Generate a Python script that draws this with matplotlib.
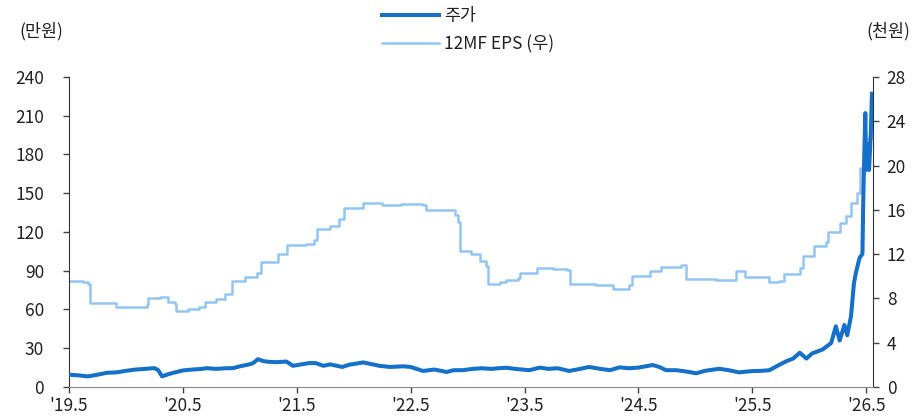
import matplotlib
matplotlib.use("Agg")
import matplotlib.pyplot as plt

plt.rcParams['font.family'] = ['Noto Sans CJK KR', 'DejaVu Sans']

# months since 2019-05 ('19.5)
price_m = [0, 1, 2, 3, 4, 5, 6, 7, 8, 9, 9.4, 9.8, 10.5, 11, 12, 13, 14, 14.5, 15.5, 16.5,
           17.3, 18, 19, 19.4, 19.9, 20.5, 21, 21.9, 22.9, 23.6, 24.5, 25.3, 26, 26.8, 27.5,
           28.8, 29.5, 31, 32, 32.7, 33.8, 35.2, 36, 37.3, 38.5, 39.8, 40.5, 41.5, 42.5, 43.5,
           44.5, 45.4, 46.1, 47, 48.5, 49.6, 50.5, 51.5, 52.7, 53.5, 54.8, 56, 57, 58, 59, 60,
           61.5, 62.2, 62.9, 64, 65, 66.1, 67, 68.5, 69.5, 70.6, 71.5, 72, 73, 73.8, 74.8, 75.6,
           76.3, 77, 77.7, 78.3, 79.4, 80.3, 80.8, 81.2, 81.7, 82.0, 82.4, 82.7, 82.9, 83.3,
           83.6, 83.7, 83.9, 84.0, 84.1, 84.3, 84.5, 84.6]
price_v = [9.5, 9.0, 8.2, 9.5, 11.0, 11.3, 12.5, 13.5, 14.0, 14.6, 13.0, 8.2, 10.0, 11.0, 12.8,
           13.5, 14.0, 14.6, 14.0, 14.5, 14.6, 16.0, 17.5, 18.5, 21.5, 20.0, 19.5, 19.2, 19.7,
           16.4, 17.5, 18.5, 18.5, 16.4, 17.5, 15.5, 17.2, 19.0, 17.5, 16.4, 15.5, 16.0, 15.5,
           12.4, 13.5, 11.6, 13.0, 13.0, 14.0, 14.5, 14.0, 14.6, 14.9, 14.0, 13.0, 15.0, 14.0,
           14.5, 12.4, 13.5, 15.5, 14.0, 13.0, 15.2, 14.5, 15.0, 17.0, 15.5, 13.0, 13.0, 12.0,
           10.6, 12.5, 14.1, 13.0, 11.3, 12.0, 12.3, 12.5, 13.0, 17.0, 20.0, 22.0, 26.5, 22.0,
           26.0, 29.0, 34.0, 47.0, 36.0, 48.0, 40.0, 55.0, 80.0, 88.0, 100.0, 103.0, 150.0,
           212.0, 168.0, 188.0, 168.0, 200.0, 227.0]

eps_m = [0, 1.5, 2.0, 2.2, 3.5, 5, 7, 8.2, 8.3, 9.6, 10.4, 11.2, 11.3, 12.5, 13.7, 14.3, 15.5,
         16.4, 17.1, 17.2, 18.5, 19.8, 20.2, 22, 23, 25, 25.8, 26.1, 27.5, 28.5, 29, 31, 33, 35,
         37.3, 37.6, 40, 40.7, 41, 41.2, 42.4, 43.3, 43.9, 44.1, 45.4, 46, 47.3, 47.5, 49.3, 51,
         52.5, 52.8, 55.5, 57.3, 59, 59.3, 61.2, 62.4, 64.5, 65.0, 68.2, 70.3, 71.2, 73.8, 74.8,
         75.3, 77, 77.3, 78.5, 79.8, 80.0, 81.2, 81.9, 82.4, 83.0, 83.3, 84.0, 84.3, 84.6]
eps_v = [9.57, 9.45, 9.33, 7.58, 7.58, 7.23, 7.23, 7.41, 8.05, 8.17, 7.7, 7.47, 6.88, 7.0, 7.23,
         7.7, 7.93, 8.4, 8.4, 9.57, 9.92, 10.27, 11.3, 12.0, 12.83, 12.95, 13.3, 14.23, 14.58,
         15.17, 16.2, 16.57, 16.45, 16.5, 16.4, 16.0, 16.0, 15.5, 14.9, 12.25, 12.0, 11.4, 10.97,
         9.33, 9.45, 9.68, 9.86, 10.27, 10.73, 10.67, 10.6, 9.33, 9.22, 8.87, 9.22, 10.03, 10.5,
         10.85, 11.03, 9.74, 9.68, 10.5, 9.92, 9.5, 9.55, 10.2, 10.7, 11.8, 12.7, 13.1, 14.0,
         14.8, 15.4, 16.6, 17.5, 19.8, 20.4, 22.5, 23.0]

xtick_pos = [0, 12, 24, 36, 48, 60, 72, 84]
xtick_lab = ["'19.5", "'20.5", "'21.5", "'22.5", "'23.5", "'24.5", "'25.5", "'26.5"]
left_ticks = [0, 30, 60, 90, 120, 150, 180, 210, 240]
right_ticks = [0, 4, 8, 12, 16, 20, 24, 28]

c_price = '#1570c9'
c_eps = '#92c5f3'
tc = '#222222'

fig = plt.figure(figsize=(9.14, 4.18), dpi=100)
ax = fig.add_axes([0.0755, 0.0742, 0.8795, 0.7418])
ax2 = ax.twinx()

l1, = ax.plot(price_m, price_v, color=c_price, lw=2.9, label='주가', zorder=3)
l2, = ax2.plot(eps_m, eps_v, color=c_eps, lw=1.8, label='12MF EPS (우)', zorder=2,
               drawstyle='steps-post')
ax.set_zorder(ax2.get_zorder() + 1)
ax.patch.set_visible(False)

ax.set_xlim(0, 84.7)
ax.set_ylim(0, 240)
ax2.set_ylim(0, 28)
ax.set_xticks(xtick_pos)
ax.set_xticklabels(xtick_lab)
ax.set_yticks(left_ticks)
ax2.set_yticks(right_ticks)

for a in (ax, ax2):
    a.spines['top'].set_visible(False)
    a.tick_params(axis='both', direction='out', length=4, width=1, colors='#444444',
                  labelcolor=tc, labelsize=12.5)
ax.spines['left'].set_color('#333333')
ax2.spines['right'].set_color('#333333')
ax.spines['bottom'].set_color('#888888')
ax2.spines['bottom'].set_visible(False)
ax2.spines['left'].set_visible(False)
ax.spines['right'].set_visible(False)
ax.tick_params(axis='x', pad=3)
ax.tick_params(axis='y', pad=14)
ax2.tick_params(axis='y', pad=6)

fig.text(0.045, 0.925, '(만원)', ha='center', va='center', fontsize=12.5, color=tc)
fig.text(0.972, 0.925, '(천원)', ha='center', va='center', fontsize=12.5, color=tc)

fig.legend(handles=[l1, l2], loc='upper center', bbox_to_anchor=(0.512, 1.02), ncol=1,
           frameon=False, fontsize=12.5, handlelength=3.3, handletextpad=0.3,
           labelspacing=0.55, labelcolor=tc)

fig.savefig('out.png', dpi=100)
